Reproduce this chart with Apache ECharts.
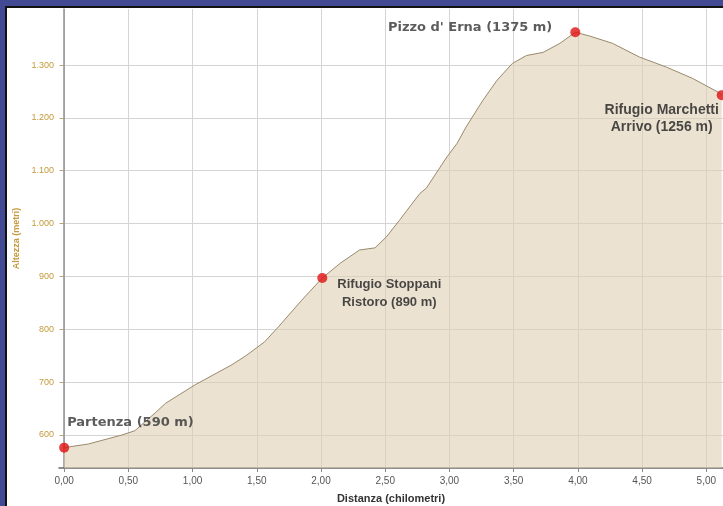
<!DOCTYPE html>
<html>
<head>
<meta charset="utf-8">
<script src="https://cdn.jsdelivr.net/npm/echarts@6/dist/echarts.min.js"></script>
<style>
html,body{margin:0;padding:0;background:#fff;}
#chart{width:723px;height:506px;}
</style>
</head>
<body>
<div id="chart"></div>
<script>
// Profile: distance (km) and elevation (m)
var profileKm = [0, 0.19, 0.45, 0.55, 0.71, 0.79, 1.02, 1.30, 1.41, 1.56, 1.67, 1.85, 2.01, 2.15, 2.30, 2.42, 2.51, 2.61, 2.77, 2.82, 2.98, 3.06, 3.13, 3.26, 3.37, 3.49, 3.60, 3.73, 3.86, 3.98, 4.09, 4.27, 4.48, 4.69, 4.89, 5.09, 5.12];
var profileElev = [576, 583, 600, 608, 642, 660, 695, 732, 749, 776, 805, 855, 897, 925, 950, 954, 975, 1006, 1057, 1067, 1126, 1152, 1183, 1233, 1271, 1303, 1318, 1324, 1341, 1362, 1355, 1341, 1315, 1296, 1275, 1249, 1243];

// Waypoints
var pointNames = ["Partenza (590 m)", "Rifugio Stoppani\nRistoro (890 m)", "Pizzo d' Erna (1375 m)", "Rifugio Marchetti\nArrivo (1256 m)"];
var pointKm = [0, 2.01, 3.98, 5.12];
var pointElev = [576, 897, 1362, 1243];

// Ticks
var xTicks = [0, 0.5, 1, 1.5, 2, 2.5, 3, 3.5, 4, 4.5, 5];
var xTickLabels = ["0,00", "0,50", "1,00", "1,50", "2,00", "2,50", "3,00", "3,50", "4,00", "4,50", "5,00"];
var yTicks = [600, 700, 800, 900, 1000, 1100, 1200, 1300];
var yTickLabels = ["600", "700", "800", "900", "1.000", "1.100", "1.200", "1.300"];

var xName = "Distanza (chilometri)";
var yName = "Altezza (metri)";

var labelStyles = [
  {position: [8, -20], align: 'left', verticalAlign: 'middle', fontFamily: 'DejaVu Sans', fontSize: 13, fontWeight: 'bold', color: '#333'},
  {position: [72, 2], align: 'center', verticalAlign: 'top', fontFamily: 'Liberation Sans', fontSize: 13, fontWeight: 'bold', lineHeight: 18, color: '#1e1e1e'},
  {position: [-18, 0], align: 'right', verticalAlign: 'middle', fontFamily: 'DejaVu Sans', fontSize: 13, fontWeight: 'bold', color: '#333'},
  {position: [-55, 11], align: 'center', verticalAlign: 'top', fontFamily: 'Liberation Sans', fontSize: 14, fontWeight: 'bold', lineHeight: 17, color: '#1e1e1e'}
];

var lineData = profileKm.map(function (k, i) { return [k, profileElev[i]]; });
var pointData = pointKm.map(function (k, i) {
  return {value: [k, pointElev[i]], name: pointNames[i], label: Object.assign({show: true, formatter: pointNames[i]}, labelStyles[i])};
});

function fmtFrom(ticks, labels) {
  return function (v) {
    for (var i = 0; i < ticks.length; i++) { if (Math.abs(ticks[i] - v) < 1e-6) return labels[i]; }
    return '';
  };
}

var chart = echarts.init(document.getElementById('chart'), null, {renderer: 'canvas'});
chart.setOption({
  animation: false,
  backgroundColor: '#ffffff',
  grid: {left: 59, right: 0, top: 9, bottom: 38, containLabel: false, outerBoundsMode: 'none'},
  xAxis: {
    type: 'value',
    min: -0.04, max: 5.13,
    name: xName, nameLocation: 'middle', nameGap: 25,
    nameTextStyle: {fontFamily: 'Liberation Sans', fontSize: 11, fontWeight: 'bold', color: '#333'},
    axisLine: {show: true, lineStyle: {color: '#6a6a6a', width: 1.5}},
    axisTick: {show: true, length: 4, customValues: xTicks, lineStyle: {color: '#8a8a8a'}},
    axisLabel: {customValues: xTicks, formatter: fmtFrom(xTicks, xTickLabels), fontFamily: 'Liberation Sans', fontSize: 10, color: '#555', margin: 8},
    splitLine: {show: true, lineStyle: {color: '#d4d4d4', width: 1}}
  },
  yAxis: {
    type: 'value',
    min: 537.5, max: 1406,
    name: yName, nameLocation: 'middle', nameGap: 38, nameRotate: 90,
    nameTextStyle: {fontFamily: 'Liberation Sans', fontSize: 9, fontWeight: 'bold', color: '#c49a3c'},
    axisLine: {show: true, lineStyle: {color: '#8e8e98', width: 1.5}},
    axisTick: {show: true, length: 4, customValues: yTicks, lineStyle: {color: '#b8a070'}},
    axisLabel: {customValues: yTicks, formatter: fmtFrom(yTicks, yTickLabels), fontFamily: 'Liberation Sans', fontSize: 9, color: '#c49a3c', margin: 5},
    splitLine: {show: true, lineStyle: {color: '#d4d4d4', width: 1}}
  },
  series: [
    {
      type: 'line',
      data: lineData,
      showSymbol: false,
      smooth: false,
      lineStyle: {color: '#9a8a6c', width: 1},
      areaStyle: {color: 'rgba(222,207,180,0.85)'},
      z: 2
    },
    {
      type: 'scatter',
      data: pointData,
      symbol: 'circle',
      symbolSize: 10,
      itemStyle: {color: '#e01010'},
      z: 5
    }
  ],
  graphic: [
    {type: 'rect', shape: {x: 0, y: 0, width: 723, height: 6}, style: {fill: '#414a93'}, z: 100},
    {type: 'rect', shape: {x: 0, y: 0, width: 5, height: 506}, style: {fill: '#414a93'}, z: 100},
    {type: 'rect', shape: {x: 5, y: 6, width: 718, height: 2}, style: {fill: '#111'}, z: 100},
    {type: 'rect', shape: {x: 5, y: 6, width: 2, height: 500}, style: {fill: '#111'}, z: 100}
  ]
});
</script>
</body>
</html>
